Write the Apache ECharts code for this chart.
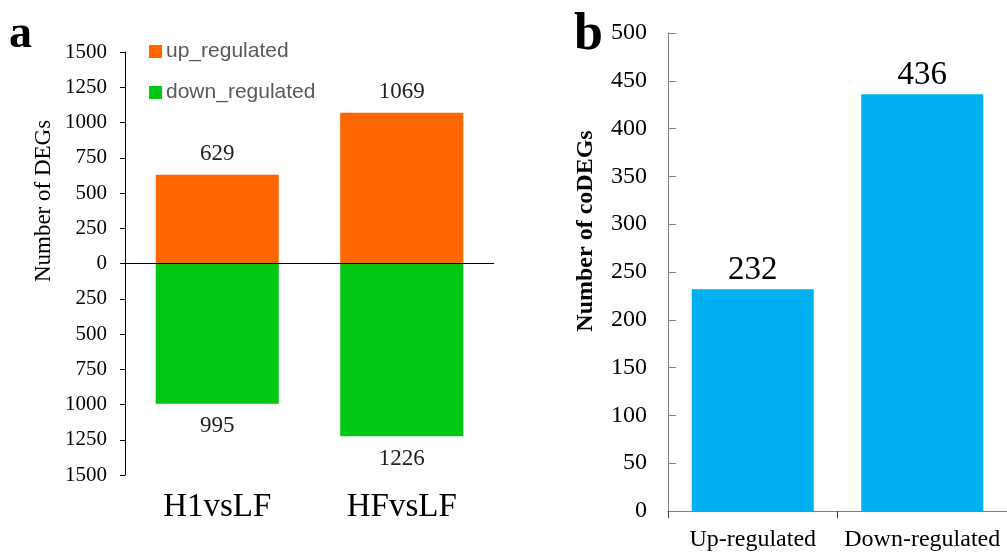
<!DOCTYPE html>
<html>
<head>
<meta charset="utf-8">
<script src="https://cdn.jsdelivr.net/npm/echarts@6/dist/echarts.min.js"></script>
<style>
  html, body { margin: 0; padding: 0; background: #fff; }
  #main { width: 1007px; height: 553px; }
</style>
</head>
<body>
<div id="main"></div>
<script>
// panel a
const groups = ['H1vsLF', 'HFvsLF'];
const upRegulated = [629, 1069];
const downRegulated = [995, 1226];
// panel b
const coCategories = ['Up-regulated', 'Down-regulated'];
const coDEGs = [232, 436];

const serif = '"Liberation Serif", "Times New Roman", serif';

const chart = echarts.init(document.getElementById('main'));
chart.setOption({
  animation: false,
  backgroundColor: '#fff',
  legend: {
    data: ['up_regulated', 'down_regulated'],
    orient: 'vertical',
    left: 144,
    top: 36,
    icon: 'rect',
    itemWidth: 13,
    itemHeight: 13,
    itemGap: 20,
    textStyle: { fontFamily: '"Liberation Sans", Arial, sans-serif', fontSize: 21, color: '#595959', padding: [0, 0, 0, -1] },
  },
  graphic: [
    { type: 'text', left: 9, top: 12, style: { text: 'a', font: 'bold 46px ' + serif, fill: '#000' } },
    { type: 'text', left: 574, top: 10, style: { text: 'b', font: 'bold 52px ' + serif, fill: '#000' } },
    {
      type: 'text', x: 44, y: 201, rotation: Math.PI / 2,
      style: { text: 'Number of DEGs', font: '23px ' + serif, fill: '#000', align: 'center', verticalAlign: 'middle' },
    },
    {
      type: 'text', x: 586, y: 231, rotation: Math.PI / 2,
      style: { text: 'Number of coDEGs', font: 'bold 24px ' + serif, fill: '#000', align: 'center', verticalAlign: 'middle' },
    },
  ],
  grid: [
    { left: 125, top: 52, width: 369, height: 423 },
    { left: 668, top: 33, width: 342, height: 478 },
  ],
  xAxis: [
    {
      gridIndex: 0,
      type: 'category',
      data: groups,
      axisLine: { show: false },
      axisTick: { show: false },
      axisLabel: { interval: 0, margin: 16, fontFamily: serif, fontSize: 33, color: '#000' },
    },
    {
      gridIndex: 1,
      type: 'category',
      data: coCategories,
      axisLine: { lineStyle: { color: '#808080' } },
      axisTick: { show: true, length: 7, lineStyle: { color: '#404040' } },
      axisLabel: { interval: 0, hideOverlap: false, margin: 17, fontFamily: serif, fontSize: 24, color: '#000' },
    },
  ],
  yAxis: [
    {
      gridIndex: 0,
      type: 'value',
      min: -1500,
      max: 1500,
      interval: 250,
      axisLine: { show: true, lineStyle: { color: '#000' } },
      axisTick: { show: true, length: 5, lineStyle: { color: '#000' } },
      splitLine: { show: false },
      axisLabel: {
        margin: 18,
        fontFamily: serif,
        fontSize: 21,
        color: '#000',
        formatter: v => String(Math.abs(v)),
      },
    },
    {
      gridIndex: 1,
      type: 'value',
      min: 0,
      max: 500,
      interval: 50,
      axisLine: { show: true, lineStyle: { color: '#808080' } },
      axisTick: { show: true, inside: true, length: 8, lineStyle: { color: '#808080' } },
      splitLine: { show: false },
      axisLabel: { margin: 21, fontFamily: serif, fontSize: 24, color: '#000' },
    },
  ],
  series: [
    {
      name: 'up_regulated',
      type: 'bar',
      xAxisIndex: 0,
      yAxisIndex: 0,
      stack: 'deg',
      barWidth: '66.7%',
      data: upRegulated,
      itemStyle: { color: '#FF6600' },
      label: {
        show: true, position: 'top', distance: 9,
        fontFamily: serif, fontSize: 23, color: '#222',
      },
      markLine: {
        silent: true,
        symbol: 'none',
        label: { show: false },
        lineStyle: { color: '#000', width: 1.2, type: 'solid' },
        data: [{ yAxis: 0 }],
      },
      z: 2,
    },
    {
      name: 'down_regulated',
      type: 'bar',
      xAxisIndex: 0,
      yAxisIndex: 0,
      stack: 'deg',
      barWidth: '66.7%',
      data: downRegulated.map(v => -v),
      itemStyle: { color: '#00C714' },
      label: {
        show: true, position: 'bottom', distance: 11,
        fontFamily: serif, fontSize: 23, color: '#222',
        formatter: p => String(Math.abs(p.value)),
      },
      z: 2,
    },
    {
      name: 'coDEGs',
      type: 'bar',
      xAxisIndex: 1,
      yAxisIndex: 1,
      barWidth: '72%',
      data: coDEGs,
      itemStyle: { color: '#00B0F0' },
      label: {
        show: true, position: 'top', distance: 2,
        fontFamily: serif, fontSize: 33, color: '#000',
      },
    },
  ],
});
</script>
</body>
</html>
